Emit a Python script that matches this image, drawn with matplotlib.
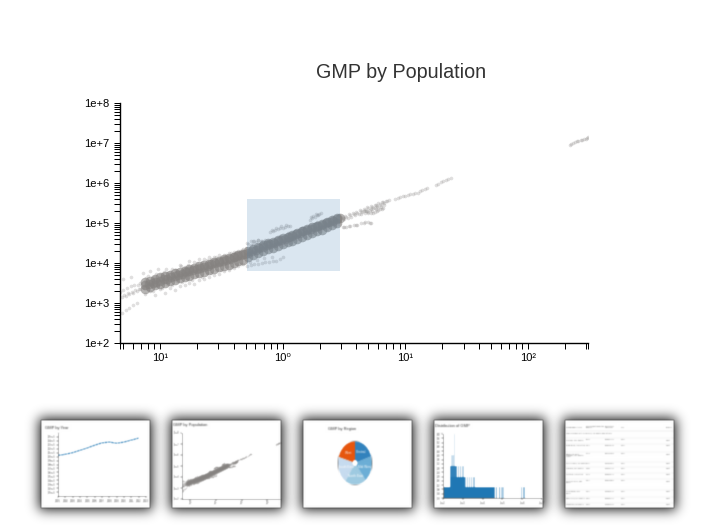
#!/usr/bin/python3

import numpy as np
import matplotlib
matplotlib.use('Agg')
import matplotlib.pyplot as plt
from matplotlib.patches import Rectangle

FIG_W = 718
FIG_H = 525
GREY = '#858280'
FONT = ['Liberation Sans', 'DejaVu Sans']

# values, log10 of population (millions) and of GMP
spine_x = [-1.12, -1.09, -1.06, -1.03, -1.00, -0.97, -0.94, -0.91, -0.88, -0.85, -0.82, -0.79, -0.76, -0.73,
           -0.70, -0.67, -0.64, -0.61, -0.58, -0.55, -0.52, -0.49, -0.46, -0.43, -0.40, -0.37, -0.34, -0.31,
           -0.28, -0.25, -0.22, -0.19, -0.16, -0.13, -0.10, -0.07, -0.04, -0.01, 0.02, 0.05, 0.08, 0.11,
           0.14, 0.17, 0.20, 0.23, 0.26, 0.29, 0.32, 0.35, 0.38, 0.41, 0.44, 0.47]
spine_y = [3.44, 3.47, 3.49, 3.53, 3.55, 3.59, 3.61, 3.64, 3.68, 3.70, 3.73, 3.77, 3.79, 3.82,
           3.85, 3.88, 3.91, 3.93, 3.97, 3.99, 4.03, 4.05, 4.08, 4.11, 4.14, 4.17, 4.20, 4.23,
           4.26, 4.30, 4.33, 4.37, 4.40, 4.44, 4.47, 4.50, 4.54, 4.57, 4.61, 4.65, 4.68, 4.72,
           4.76, 4.79, 4.83, 4.86, 4.90, 4.93, 4.96, 4.99, 5.03, 5.06, 5.09, 5.12]

# rows either side of the dense band
band_hi_x = [-1.12, -1.08, -1.04, -1.00, -0.96, -0.92, -0.88, -0.84, -0.80, -0.76, -0.72, -0.68, -0.64, -0.60,
             -0.56, -0.52, -0.48, -0.44, -0.40, -0.36, -0.32, -0.28, -0.24, -0.20, -0.16, -0.12, -0.08, -0.04,
             0.00, 0.04, 0.08, 0.12, 0.16, 0.20, 0.24, 0.28, 0.32, 0.36, 0.40, 0.44]
band_hi_y = [3.53, 3.56, 3.60, 3.64, 3.67, 3.71, 3.75, 3.78, 3.81, 3.85, 3.88, 3.92, 3.95, 3.98,
             4.02, 4.06, 4.09, 4.12, 4.16, 4.19, 4.23, 4.30, 4.35, 4.40, 4.45, 4.49, 4.53, 4.58,
             4.62, 4.66, 4.71, 4.75, 4.80, 4.85, 4.89, 4.93, 4.98, 5.03, 5.08, 5.12]
band_lo_x = [-1.12, -1.08, -1.04, -1.00, -0.96, -0.92, -0.88, -0.84, -0.80, -0.76, -0.72, -0.68, -0.64, -0.60,
             -0.56, -0.52, -0.48, -0.44, -0.40, -0.36, -0.32, -0.28, -0.24, -0.20, -0.16, -0.12, -0.08, -0.04,
             0.00, 0.04, 0.08, 0.12, 0.16, 0.20, 0.24, 0.28, 0.32, 0.36, 0.40, 0.44]
band_lo_y = [3.36, 3.40, 3.44, 3.47, 3.51, 3.54, 3.58, 3.62, 3.64, 3.68, 3.72, 3.75, 3.78, 3.82,
             3.86, 3.89, 3.92, 3.96, 4.00, 4.04, 4.08, 4.15, 4.20, 4.25, 4.30, 4.34, 4.38, 4.43,
             4.47, 4.52, 4.56, 4.60, 4.65, 4.70, 4.75, 4.79, 4.83, 4.89, 4.95, 5.00]

above_x = [-1.14, -1.11, -1.08, -1.05, -1.02, -0.98, -0.95, -0.92, -0.88, -0.84, -0.80, -0.76, -0.72, -0.68,
           -0.64, -0.60, -0.56, -0.52, -0.48, -0.44, -0.40, -0.36, -0.32, -0.29, -1.12, -1.06, -1.00, -0.94,
           -0.87, -0.81, -0.74, -0.66, -0.58, -0.50, -0.42, -0.35, -0.30, -0.26, -0.22, -0.18, -0.14, -0.28,
           -0.24, -0.20, -0.16, -0.12, -0.02, 0.04, 0.10, 0.16, 0.22, 0.28, 0.34, 0.40, 0.46,
           -1.10, -1.03, -0.97, -0.90, -0.83, -0.77, -0.70, -0.62, -0.54, -0.46, -0.38, -0.33]
above_y = [3.76, 3.62, 3.80, 3.66, 3.84, 3.72, 3.86, 3.78, 3.83, 3.96, 3.90, 4.05, 4.02, 4.10,
           4.09, 4.16, 4.14, 4.20, 4.19, 4.25, 4.27, 4.30, 4.36, 4.38, 3.55, 3.62, 3.70, 3.74,
           3.82, 3.88, 3.93, 4.02, 4.10, 4.16, 4.24, 4.31, 4.38, 4.44, 4.52, 4.56, 4.57, 4.48,
           4.54, 4.58, 4.50, 4.56, 4.68, 4.74, 4.80, 4.88, 4.94, 5.02, 5.06, 5.14, 5.20,
           3.67, 3.72, 3.78, 3.84, 3.92, 3.96, 4.01, 4.07, 4.14, 4.20, 4.28, 4.33]

below_x = [-1.12, -1.08, -1.04, -1.00, -0.96, -0.92, -0.88, -0.84, -0.80, -0.76, -0.72, -0.68, -0.64, -0.60,
           -0.56, -0.52, -0.48, -0.44, -0.40, -0.36, -0.32, -1.10, -1.02, -0.94, -0.86, -0.78, -0.70, -0.62,
           -0.54, -0.46, -0.38, -0.30, -0.05, 0.00, 0.06, 0.12, 0.18, 0.24, 0.30, 0.36, 0.42, 0.46,
           -1.06, -0.98, -0.90, -0.82, -0.74, -0.66, -0.58, -0.50, -0.42, -0.34]
below_y = [3.22, 3.30, 3.20, 3.34, 3.26, 3.38, 3.32, 3.42, 3.44, 3.50, 3.48, 3.58, 3.60, 3.66,
           3.70, 3.72, 3.80, 3.82, 3.88, 3.92, 3.98, 3.36, 3.42, 3.48, 3.54, 3.62, 3.68, 3.74,
           3.82, 3.92, 3.98, 4.04, 4.42, 4.46, 4.52, 4.60, 4.66, 4.72, 4.80, 4.86, 4.92, 4.98,
           3.30, 3.38, 3.46, 3.52, 3.58, 3.66, 3.74, 3.82, 3.90, 3.98]

tail_x = [-1.33, -1.30, -1.27, -1.24, -1.21, -1.18, -1.16, -1.31, -1.28, -1.25, -1.22, -1.19, -1.16, -1.13,
          -1.31, -1.28, -1.25, -1.22, -1.19, -1.36, -1.30, -1.24, -1.29, -1.26, -1.23, -1.20, -1.17, -1.14]
tail_y = [3.28, 3.32, 3.38, 3.42, 3.44, 3.46, 3.50, 3.15, 3.18, 3.22, 3.26, 3.30, 3.34, 3.38,
          2.76, 2.82, 2.88, 2.94, 3.00, 3.45, 3.60, 3.66, 3.20, 3.24, 3.28, 3.32, 3.36, 3.40]

bump_x = [-0.10, -0.08, -0.06, -0.04, -0.02, 0.00, 0.02, 0.04, 0.06, -0.09, -0.05, -0.01, 0.03,
          0.22, 0.24, 0.26, 0.28, 0.30, 0.31, 0.23, 0.27, 0.25, 0.29,
          -0.29, -0.26, -0.23, -0.20, -0.17, -0.14, -0.11, -0.08, -0.05, -0.02, 0.00, -0.27, -0.21, -0.15, -0.09,
          -0.29, -0.26, -0.23, -0.20, -0.17, -0.14, -0.12, -0.18, -0.24]
bump_y = [4.78, 4.80, 4.82, 4.85, 4.87, 4.88, 4.90, 4.92, 4.93, 4.83, 4.88, 4.92, 4.95,
          5.08, 5.12, 5.16, 5.20, 5.23, 5.25, 5.14, 5.22, 5.18, 5.21,
          3.92, 3.95, 3.97, 3.98, 4.00, 4.02, 4.03, 4.05, 4.06, 4.10, 4.15, 4.02, 4.07, 4.12, 4.15,
          4.50, 4.56, 4.54, 4.58, 4.55, 4.52, 4.54, 4.50, 4.47]

upper_x = [0.48, 0.51, 0.54, 0.57, 0.60, 0.63, 0.66, 0.69, 0.72, 0.75, 0.78, 0.81, 0.84, 0.87,
           0.50, 0.53, 0.56, 0.59, 0.62, 0.65, 0.68, 0.71, 0.74, 0.77, 0.80, 0.83,
           0.64, 0.67, 0.70, 0.73, 0.76, 0.79, 0.82, 0.72, 0.75, 0.78, 0.81,
           0.49, 0.52, 0.55, 0.58, 0.61, 0.64, 0.67, 0.70, 0.73, 0.76, 0.79, 0.82, 0.85,
           0.66, 0.69, 0.72, 0.75, 0.78, 0.70, 0.74, 0.77, 0.80, 0.83]
upper_y = [5.15, 5.18, 5.22, 5.24, 5.28, 5.32, 5.36, 5.40, 5.43, 5.46, 5.50, 5.53, 5.56, 5.58,
           5.10, 5.12, 5.16, 5.20, 5.23, 5.27, 5.30, 5.33, 5.38, 5.42, 5.45, 5.50,
           5.22, 5.24, 5.28, 5.30, 5.34, 5.36, 5.38, 5.26, 5.28, 5.33, 5.36,
           5.13, 5.16, 5.19, 5.22, 5.25, 5.29, 5.33, 5.37, 5.40, 5.44, 5.48, 5.52, 5.55,
           5.29, 5.31, 5.34, 5.37, 5.40, 5.24, 5.26, 5.31, 5.40, 5.44]

strand_x = [0.49, 0.52, 0.55, 0.58, 0.61, 0.64, 0.67, 0.70, 0.72, 0.50, 0.54, 0.60, 0.66, 0.71]
strand_y = [4.89, 4.91, 4.92, 4.94, 4.96, 4.99, 5.02, 5.02, 5.00, 4.90, 4.93, 4.95, 5.01, 5.01]

reach_x = [0.92, 0.94, 0.96, 0.98, 1.00, 1.02, 1.04, 1.06, 1.08, 1.10, 1.12, 1.14, 1.16, 1.18,
           1.25, 1.27, 1.29, 1.31, 1.33, 1.35, 1.37]
reach_y = [5.60, 5.62, 5.65, 5.67, 5.68, 5.70, 5.72, 5.73, 5.75, 5.76, 5.80, 5.83, 5.85, 5.87,
           5.95, 5.98, 6.02, 6.05, 6.08, 6.10, 6.12]

far_x = [2.34, 2.35, 2.37, 2.38, 2.40, 2.41, 2.43, 2.44, 2.46, 2.47, 2.48, 2.49]
far_y = [6.95, 6.98, 7.00, 7.02, 7.04, 7.06, 7.07, 7.08, 7.10, 7.11, 7.12, 7.14]

# hand read bins of the small GMP histogram, log10 of GMP
hist_left = [2.03, 2.33, 2.37, 2.42, 2.54, 2.75, 2.84, 2.96, 3.02, 3.10, 3.20, 3.30, 3.42, 3.54,
             4.60, 4.68, 4.76, 4.84, 4.94, 5.94, 6.06]
hist_right = [4.60, 3.10, 2.72, 2.57, 2.59, 2.80, 2.90, 3.00, 3.06, 3.16, 3.26, 3.36, 3.48, 3.63,
              4.64, 4.72, 4.80, 4.88, 5.06, 6.00, 6.16]
hist_count = [1, 2, 3, 4, 6, 3, 3, 3, 3, 2, 2, 2, 2, 2, 1, 1, 1, 1, 1, 1, 1]
hist_alpha = [1, 1, 0.9, 0.25, 0.25, 0.6, 0.6, 0.4, 0.4, 0.5, 0.5, 0.5, 0.5, 0.5, 0.9, 0.9, 0.9, 0.9, 0.4, 0.6, 0.6]

# small line chart, GMP by year
year = [2001, 2002, 2003, 2004, 2005, 2006, 2007, 2008, 2009, 2010, 2011, 2012]
gmp_year = [10.3, 10.6, 11.0, 11.6, 12.2, 12.9, 13.5, 13.7, 13.4, 13.7, 14.2, 14.7]

regions = ['West', 'South East', 'North East', 'Mid West', 'Central']
region_share = [74, 72, 72, 70, 72]
region_color = ['#e6550d', '#c6dbef', '#9ecae1', '#6baed6', '#3182bd']

table_head = ['Geographic Area', 'Gross Metropolitan\nProduct', 'Population\n(millions)', 'Year', 'Region']
table_note = 'Lake Havasu City-Kingman, AZ Metro and others'
table_area = ['Casper, WY Metro', 'Pine Bluff, AR Metro',
              'Hinesville-Fort\nStewart, GA Metro\nArea', 'San Angelo, TX Metro', 'Yakima, WA Metro',
              'Victoria, TX Metro', 'Grand Forks, ND\nMetro', 'Cheyenne, WY\nMetro',
              'Missoula, MT Metro', 'Lewiston, ID Metro']
table_gmp = ['1739', '1921', '1933', '1947', '1958', '2003', '2027', '1997', '1856', '1889']
table_pop = ['0.0931407', '0.0910843', '0.0771289', '0.1127660', '0.1012340', '0.0950210',
             '0.0970880', '0.1465230', '0.0926410', '0.1094290']
table_row = [19.3, 25, 33.3, 42.7, 48, 54, 60.3, 71, 78, 84]


def px_rect(left, top, right, bottom):
    return [left / FIG_W, 1 - bottom / FIG_H, (right - left) / FIG_W, (bottom - top) / FIG_H]


def blur(sigma):
    pad = int(3 * sigma) + 1
    kernel = np.exp(-np.arange(-pad, pad + 1) ** 2 / (2.0 * sigma ** 2))
    kernel = kernel / kernel.sum()

    def apply(img, dpi):
        out = np.pad(img, ((pad, pad), (pad, pad), (0, 0)))
        for axis in (0, 1):
            out = np.apply_along_axis(lambda m: np.convolve(m, kernel, mode='same'), axis, out)
        return out, -pad, -pad
    return apply


def dense_points():
    xs = spine_x + band_hi_x + band_lo_x
    ys = spine_y + band_hi_y + band_lo_y
    return 10.0 ** np.array(xs), 10.0 ** np.array(ys)


def loose_points():
    xs = above_x + below_x + tail_x + bump_x + upper_x + strand_x + reach_x + far_x
    ys = above_y + below_y + tail_y + bump_y + upper_y + strand_y + reach_y + far_y
    return 10.0 ** np.array(xs), 10.0 ** np.array(ys)


def style_small(ax, size=2.2):
    for side in ['top', 'right']:
        ax.spines[side].set_visible(False)
    for side in ['left', 'bottom']:
        ax.spines[side].set_linewidth(0.5)
        ax.spines[side].set_color('#333333')
    ax.tick_params(which='both', length=1.2, width=0.35, labelsize=size, pad=0.6, colors='#333333')
    ax.patch.set_alpha(0)
    ax.set_agg_filter(blur(0.7))


def thumb(left, top, title=None, title_x=2, title_y=6):
    right = left + 109
    bottom = top + 88
    shadow = Rectangle(((left - 2) / FIG_W, 1 - (bottom + 2) / FIG_H), 113 / FIG_W, 92 / FIG_H,
                       transform=plt.gcf().transFigure, facecolor='#000000', alpha=0.9,
                       edgecolor='none', zorder=-5)
    shadow.set_agg_filter(blur(6))
    plt.gcf().add_artist(shadow)
    base = plt.gcf().add_axes(px_rect(left, top, right, bottom))
    base.set_xlim(0, 109)
    base.set_ylim(88, 0)
    base.set_xticks([])
    base.set_yticks([])
    for side in base.spines.values():
        side.set_visible(False)
    base.set_agg_filter(blur(0.7))
    if title:
        base.text(title_x, title_y, title, fontsize=2.9, color='#333333', va='center', family=FONT)
    return base


if __name__ == '__main__':

    plt.rcParams['font.family'] = FONT
    fig = plt.figure(figsize=(FIG_W / 100, FIG_H / 100), dpi=100)
    pop, gmp = loose_points()
    pop_dense, gmp_dense = dense_points()

    # main scatter
    ax = fig.add_axes(px_rect(119.5, 103, 588, 343))
    ax.set_xscale('log')
    ax.set_yscale('log')
    ax.scatter(pop, gmp, s=7, color=GREY, alpha=0.25, linewidths=0)
    ax.scatter(pop_dense, gmp_dense, s=48, color=GREY, alpha=0.6, linewidths=0)
    ax.set_xlim(10 ** -1.33, 10 ** 2.49)
    ax.set_ylim(1e2, 1e8)
    ax.set_xticks([0.1, 1, 10, 100])
    ax.set_xticklabels(['10\u00b9', '10\u2070', '10\u00b9', '10\u00b2'])
    ax.set_xticks([m * d for d in [0.01, 0.1, 1, 10, 100] for m in range(2, 10)
                   if 10 ** -1.33 < m * d < 10 ** 2.49] + [10 ** -1.33, 10 ** 2.49], minor=True)
    ax.set_xticklabels([], minor=True)
    ax.set_yticks([10.0 ** e for e in range(2, 9)])
    ax.set_yticklabels(['1e+%d' % e for e in range(2, 9)])
    ax.set_yticks([m * 10.0 ** e for e in range(2, 8) for m in range(2, 10)], minor=True)
    ax.set_yticklabels([], minor=True)
    ax.tick_params(which='both', length=4.3, width=0.72, color='black')
    ax.tick_params(axis='both', which='major', labelsize=8, pad=3)
    ax.spines['top'].set_visible(False)
    ax.spines['right'].set_visible(False)
    ax.spines['left'].set_linewidth(1)
    ax.spines['bottom'].set_linewidth(1)

    # brush selection
    ax.add_patch(Rectangle((10 ** -0.292, 10 ** 3.80), 10 ** 0.469 - 10 ** -0.292, 10 ** 5.60 - 10 ** 3.80,
                           facecolor='#4682b4', alpha=0.2, edgecolor='none', zorder=5))
    fig.text(401 / FIG_W, 1 - 73 / FIG_H, 'GMP by Population', fontsize=14.2, color='#333333',
             ha='center', va='center')

    # thumbnail 1, line chart
    thumb(41, 420, 'GMP by Year', 4, 8)
    small = fig.add_axes(px_rect(58, 433, 146, 496))
    small.plot(year, gmp_year, color='#1f77b4', lw=0.9, ls=(0, (2, 0.6)))
    small.set_xlim(2001, 2013)
    small.set_ylim(0, 16)
    small.set_yticks(np.arange(1, 16) * 1.0)
    small.set_yticklabels(['%.1fe+5' % (v / 10) for v in np.arange(1, 16)])
    small.set_xticks(year + [2013])
    small.set_xticklabels([str(y) for y in year] + ['2013'], rotation=0)
    style_small(small, 1.8)

    # thumbnail 2, same scatter small
    thumb(172, 420, 'GMP by Population', 1, 5)
    small = fig.add_axes(px_rect(182, 433, 280, 499))
    small.set_xscale('log')
    small.set_yscale('log')
    small.scatter(pop, gmp, s=1.2, color=GREY, alpha=0.4, linewidths=0)
    small.scatter(pop_dense, gmp_dense, s=7, color=GREY, alpha=0.6, linewidths=0)
    small.set_xlim(10 ** -1.33, 10 ** 2.49)
    small.set_ylim(1e2, 1e8)
    small.set_xticks([0.1, 1, 10, 100])
    small.set_xticklabels(['10\u00b9', '10\u2070', '10\u00b9', '10\u00b2'])
    small.set_yticks([10.0 ** e for e in range(2, 9)])
    small.set_yticklabels(['1e+%d' % e for e in range(2, 9)])
    small.minorticks_off()
    style_small(small, 1.8)

    # thumbnail 3, pie
    thumb(303, 420, 'GMP by Region', 25, 9)
    small = fig.add_axes(px_rect(303, 420, 412, 508))
    wedges, texts = small.pie(region_share, colors=region_color, startangle=90, radius=1,
                              labels=regions, labeldistance=0.6,
                              wedgeprops={'width': 0.86, 'linewidth': 0},
                              textprops={'fontsize': 2.3, 'color': 'white', 'ha': 'center', 'va': 'center'})
    small.set_aspect('auto')
    small.set_xlim(-52 / 17, 57 / 17)
    small.set_ylim(-45 / 21.7, 43 / 21.7)
    small.patch.set_alpha(0)
    small.set_agg_filter(blur(0.7))

    # thumbnail 4, histogram
    thumb(434, 420, 'Distribution of GMP', 1, 6)
    small = fig.add_axes(px_rect(443, 434, 542, 498))
    for lo, hi, count, shade in zip(hist_left, hist_right, hist_count, hist_alpha):
        small.bar(10.0 ** lo, count, width=10.0 ** hi - 10.0 ** lo, align='edge',
                  color='#1f77b4', alpha=shade, linewidth=0)
    small.set_xscale('log')
    small.set_xlim(1e2, 1e7)
    small.set_ylim(0, 6)
    small.set_yticks(np.arange(16) * 0.4)
    small.set_yticklabels(['%.1f' % v for v in np.arange(16) * 0.4])
    small.set_xticks([10.0 ** e for e in range(2, 8)])
    small.set_xticklabels(['1e+%d' % e for e in range(2, 8)])
    small.minorticks_off()
    style_small(small, 1.8)

    # thumbnail 5, table
    base = thumb(565, 420)
    head_x = [1, 21, 40, 56, 101]
    for x, label in zip(head_x, table_head):
        base.text(x, 7, label, fontsize=1.5, color='#555555', va='center', family=FONT)
    base.plot([0, 109], [11, 11], color='#dddddd', lw=0.3)
    base.text(1, 13.7, table_note, fontsize=1.5, color='#666666', va='center', family=FONT)
    for i in range(len(table_row)):
        y = table_row[i]
        base.text(1, y, table_area[i], fontsize=1.5, color='#666666', va='top', family=FONT, linespacing=1.1)
        base.text(21, y, table_gmp[i], fontsize=1.5, color='#666666', va='top', family=FONT)
        base.text(40, y, table_pop[i], fontsize=1.5, color='#666666', va='top', family=FONT)
        base.text(56, y, '2012', fontsize=1.5, color='#666666', va='top', family=FONT)
        base.text(101, y, 'West', fontsize=1.5, color='#666666', va='top', family=FONT)
        base.plot([0, 109], [y - 1, y - 1], color='#e6e6e6', lw=0.3)

    plt.savefig('out.png', dpi=100)
    plt.close()
